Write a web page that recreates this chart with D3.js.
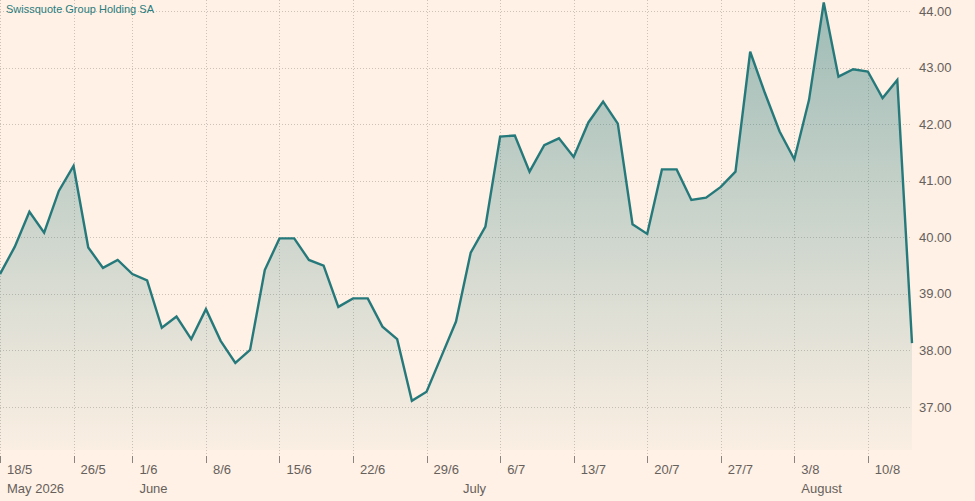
<!DOCTYPE html>
<html>
<head>
<meta charset="utf-8">
<script src="https://cdn.jsdelivr.net/npm/d3@7"></script>
<style>
  html, body { margin: 0; padding: 0; background: #fff1e5; }
  svg { display: block; font-family: "Liberation Sans", Arial, sans-serif; }
</style>
</head>
<body>
<svg id="chart" width="975" height="501"></svg>
<script>
const title = "Swissquote Group Holding SA";

// trading days (dd/m) 18 May 2026 – 13 Aug 2026
const dates = [
  "18/5","19/5","20/5","21/5","22/5",
  "26/5","27/5","28/5","29/5",
  "1/6","2/6","3/6","4/6","5/6",
  "8/6","9/6","10/6","11/6","12/6",
  "15/6","16/6","17/6","18/6","19/6",
  "22/6","23/6","24/6","25/6","26/6",
  "29/6","30/6","1/7","2/7","3/7",
  "6/7","7/7","8/7","9/7","10/7",
  "13/7","14/7","15/7","16/7","17/7",
  "20/7","21/7","22/7","23/7","24/7",
  "27/7","28/7","29/7","30/7","31/7",
  "3/8","4/8","5/8","6/8","7/8",
  "10/8","11/8","12/8","13/8"
];

const prices = [
  39.35, 39.83, 40.45, 40.08, 40.82,
  41.26, 39.82, 39.46, 39.60,
  39.35, 39.24, 38.40, 38.60, 38.20,
  38.73, 38.17, 37.78, 38.01, 39.42,
  39.98, 39.98, 39.60, 39.50, 38.77,
  38.92, 38.92, 38.42, 38.20, 37.11,
  37.27, 37.89, 38.51, 39.73, 40.19,
  41.78, 41.80, 41.16, 41.63, 41.75,
  41.42, 42.03, 42.40, 42.01, 40.23,
  40.06, 41.20, 41.20, 40.66, 40.70,
  40.89, 41.16, 43.28, 42.55, 41.87,
  41.38, 42.43, 44.15, 42.84, 42.97,
  42.93, 42.46, 42.78, 38.13
];

const weekTicks = ["18/5","26/5","1/6","8/6","15/6","22/6","29/6","6/7","13/7","20/7","27/7","3/8","10/8"];
const monthTicks = ["18/5","1/6","1/7","3/8"];
const monthLabels = ["May 2026","June","July","August"];
const yTicks = [37, 38, 39, 40, 41, 42, 43, 44];

const svg = d3.select("#chart");
const W = 975, H = 501;
const plotLeft = 0, plotRight = 912, plotTop = 0, plotBottom = 450;

const x = d3.scaleLinear().domain([0, dates.length - 1]).range([plotLeft, plotRight]);
const y = d3.scaleLinear().domain([37, 44]).range([407, 11]);

const data = dates.map((d, i) => ({ i, d, v: prices[i] }));

// gradient
const defs = svg.append("defs");
const grad = defs.append("linearGradient")
  .attr("id", "fillGrad")
  .attr("gradientUnits", "userSpaceOnUse")
  .attr("x1", 0).attr("y1", plotTop).attr("x2", 0).attr("y2", plotBottom);
grad.append("stop").attr("offset", "0%").attr("stop-color", "#26797b").attr("stop-opacity", 0.45);
grad.append("stop").attr("offset", "100%").attr("stop-color", "#26797b").attr("stop-opacity", 0.02);

// horizontal gridlines
const gGridY = svg.append("g");
gGridY.selectAll("line").data(yTicks).join("line")
  .attr("x1", 0).attr("x2", 911)
  .attr("y1", d => Math.round(y(d)) + 0.5).attr("y2", d => Math.round(y(d)) + 0.5)
  .attr("stroke", "#cdc2b8").attr("stroke-width", 1).attr("stroke-dasharray", "1,2");

// vertical gridlines
const idx = d => dates.indexOf(d);
const gGridX = svg.append("g");
gGridX.selectAll("line").data(weekTicks).join("line")
  .attr("x1", d => Math.round(x(idx(d))) + 0.5).attr("x2", d => Math.round(x(idx(d))) + 0.5)
  .attr("y1", 0).attr("y2", 455)
  .attr("stroke", "#cdc2b8").attr("stroke-width", 1).attr("stroke-dasharray", "1,2");

// area
const area = d3.area().x(d => x(d.i)).y0(plotBottom).y1(d => y(d.v));
svg.append("path").datum(data).attr("d", area).attr("fill", "url(#fillGrad)");

// line
const line = d3.line().x(d => x(d.i)).y(d => y(d.v));
svg.append("path").datum(data).attr("d", line)
  .attr("fill", "none").attr("stroke", "#26797b").attr("stroke-width", 2.4)
  .attr("stroke-linejoin", "miter");

// x axis ticks
const gx = svg.append("g");
gx.selectAll("line").data(weekTicks).join("line")
  .attr("x1", d => Math.round(x(idx(d))) + 0.5).attr("x2", d => Math.round(x(idx(d))) + 0.5)
  .attr("y1", 456).attr("y2", 463)
  .attr("stroke", "#8a847f").attr("stroke-width", 1);
gx.selectAll("text.wk").data(weekTicks).join("text")
  .attr("class", "wk")
  .attr("x", d => x(idx(d)) + 7).attr("y", 474)
  .attr("font-size", 13).attr("fill", "#66605c")
  .text(d => d);
gx.selectAll("text.mo").data(monthTicks).join("text")
  .attr("class", "mo")
  .attr("x", d => x(idx(d)) + 7).attr("y", 493)
  .attr("font-size", 13).attr("fill", "#66605c")
  .text((d, i) => monthLabels[i]);

// y axis labels
const gy = svg.append("g");
gy.selectAll("text").data(yTicks).join("text")
  .attr("x", 919).attr("y", d => y(d)).attr("dy", "0.35em")
  .attr("font-size", 13).attr("fill", "#66605c")
  .text(d => d3.format(".2f")(d));

// title
svg.append("text").attr("x", 6).attr("y", 13)
  .attr("font-size", 11).attr("fill", "#2a7d80")
  .text(title);
</script>
</body>
</html>
